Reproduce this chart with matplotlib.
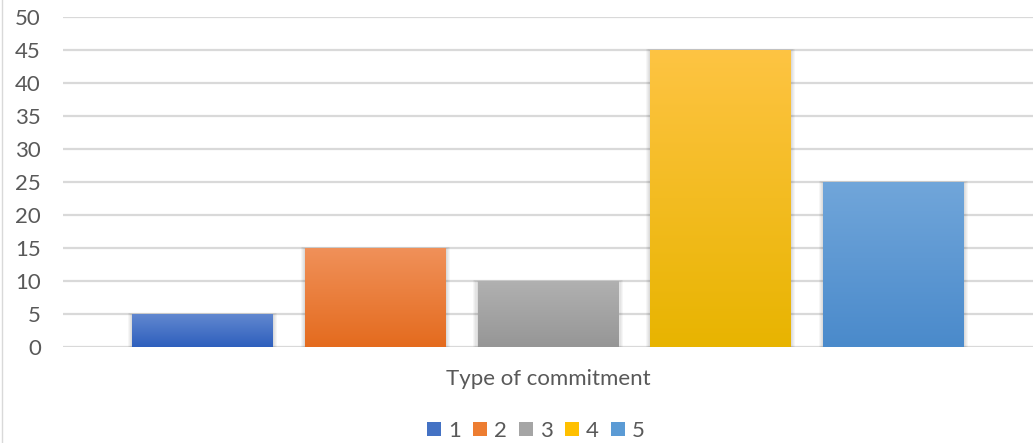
import numpy as np
import matplotlib
matplotlib.use("Agg")
import matplotlib.pyplot as plt
from matplotlib.patches import Patch, Rectangle
from matplotlib.colors import to_rgb

# Data
series_names = ["1", "2", "3", "4", "5"]
values = [5, 15, 10, 45, 25]
category = "Type of commitment"
y_ticks = [0, 5, 10, 15, 20, 25, 30, 35, 40, 45, 50]

# Office-style palette: (top, bottom) gradient stops per series
top_colors = ["#6389d0", "#f0915a", "#b1b1b1", "#fec443", "#71a6da"]
bottom_colors = ["#2e5fbd", "#e46b1e", "#969696", "#e8b400", "#4a8acb"]
legend_colors = ["#4472c4", "#ed7d31", "#a5a5a5", "#ffc000", "#5b9bd5"]

plt.rcParams["font.family"] = ["Lato", "DejaVu Sans"]
text_color = "#595959"

fig = plt.figure(figsize=(10.33, 4.43), dpi=100)
ax = fig.add_axes([0.061, 0.2167, 0.939, 0.745])

x = np.arange(len(values))
width = 0.815
bars = ax.bar(x, values, width=width, color=legend_colors, zorder=3)

# gradient fill + soft shadow for each bar
for bar, c_top, c_bot in zip(bars, top_colors, bottom_colors):
    bx, by = bar.get_x(), bar.get_y()
    bw, bh = bar.get_width(), bar.get_height()
    for k in range(1, 5):
        dx = 0.006 * k
        dy = 0.18 * k
        ax.add_patch(Rectangle((bx - dx, by - dy), bw + 2 * dx, bh + dy * 1.2,
                               facecolor="black", alpha=0.035, lw=0, zorder=2))
    t, b = np.array(to_rgb(c_top)), np.array(to_rgb(c_bot))
    grad = np.linspace(0, 1, 256)[:, None, None]
    img = t * (1 - grad) + b * grad
    im = ax.imshow(img, extent=(bx, bx + bw, by, by + bh), origin="upper",
                   aspect="auto", zorder=4, interpolation="bilinear")
    im.set_clip_path(bar)

ax.set_xlim(-0.806, 4.806)
ax.set_ylim(0, 50)
ax.set_yticks(y_ticks)
ax.set_xticks([])
ax.grid(axis="y", color="#d9d9d9", linewidth=1.6, zorder=0)
ax.set_axisbelow(True)
for s in ax.spines.values():
    s.set_visible(False)
ax.tick_params(axis="y", length=0, pad=16, labelsize=16, labelcolor=text_color)

ax.set_xlabel(category, fontsize=16, color=text_color, labelpad=16)

handles = [Patch(facecolor=c, edgecolor="none") for c in legend_colors]
fig.legend(handles, series_names, loc="lower center", ncol=5, frameon=False,
           bbox_to_anchor=(0.519, -0.04), fontsize=16, labelcolor=text_color,
           handlelength=0.64, handleheight=0.64, handletextpad=0.3,
           columnspacing=0.55)

# faint chart border on the left
fig.add_artist(plt.Line2D([0.0015, 0.0015], [0, 1], color="#d9d9d9", lw=1,
                          transform=fig.transFigure))

fig.savefig("out.png", dpi=100)
